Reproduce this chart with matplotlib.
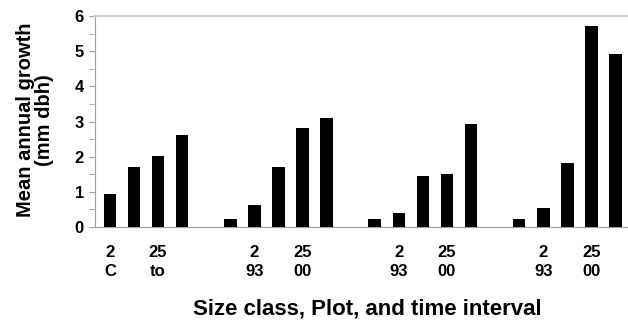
import matplotlib
matplotlib.use('Agg')
import matplotlib.pyplot as plt
from matplotlib.ticker import MultipleLocator

plt.rcParams['font.family'] = 'Liberation Sans'
plt.rcParams['font.weight'] = 'bold'

# bar heights per group (group 1 has one empty slot)
group1 = [0.94, 1.71, 2.01, 2.62]
group2 = [0.22, 0.63, 1.71, 2.82, 3.11]
group3 = [0.22, 0.41, 1.44, 1.51, 2.92]
group4 = [0.22, 0.53, 1.82, 5.72, 4.91]

# slot positions of bars along x
pos1 = [0, 1, 2, 3]
pos2 = [5, 6, 7, 8, 9]
pos3 = [11, 12, 13, 14, 15]
pos4 = [17, 18, 19, 20, 21]

tick_pos = [0, 2, 6, 8, 12, 14, 18, 20]
tick_labels = ['2\nC', '25\nto', '2\n93', '25\n00', '2\n93', '25\n00', '2\n93', '25\n00']

fig = plt.figure(figsize=(6.28, 3.21), dpi=100)
ax = fig.add_axes([95 / 628, 1 - 227 / 321, 1 - 95 / 628, (227 - 16) / 321])

for pos, vals in [(pos1, group1), (pos2, group2), (pos3, group3), (pos4, group4)]:
    ax.bar(pos, vals, width=0.52, color='black', zorder=3)

ax.set_xlim(-0.62, 21.52)
ax.set_ylim(0, 6)
ax.yaxis.set_major_locator(MultipleLocator(1))
ax.yaxis.set_minor_locator(MultipleLocator(0.5))
ax.tick_params(axis='y', which='both', length=4, color='#a0a0a0', labelsize=12, pad=4)

ax.set_xticks(tick_pos)
ax.set_xticklabels(tick_labels, fontsize=12, linespacing=1.35)
ax.tick_params(axis='x', length=0, pad=13)

ax.spines['right'].set_visible(False)
for s in ['left', 'bottom']:
    ax.spines[s].set_color('#a0a0a0')
ax.spines['top'].set_color('#d0d0d0')
ax.spines['top'].set_linewidth(1.5)

fig.text(35 / 628, 1 - 120 / 321, 'Mean annual growth\n(mm dbh)', rotation=90,
         ha='center', va='center', fontsize=14.5, fontweight='bold', linespacing=1.0)
fig.text(367 / 628, 1 - 309 / 321, 'Size class, Plot, and time interval',
         ha='center', va='center', fontsize=16, fontweight='bold')

fig.savefig('out.png', dpi=100)
